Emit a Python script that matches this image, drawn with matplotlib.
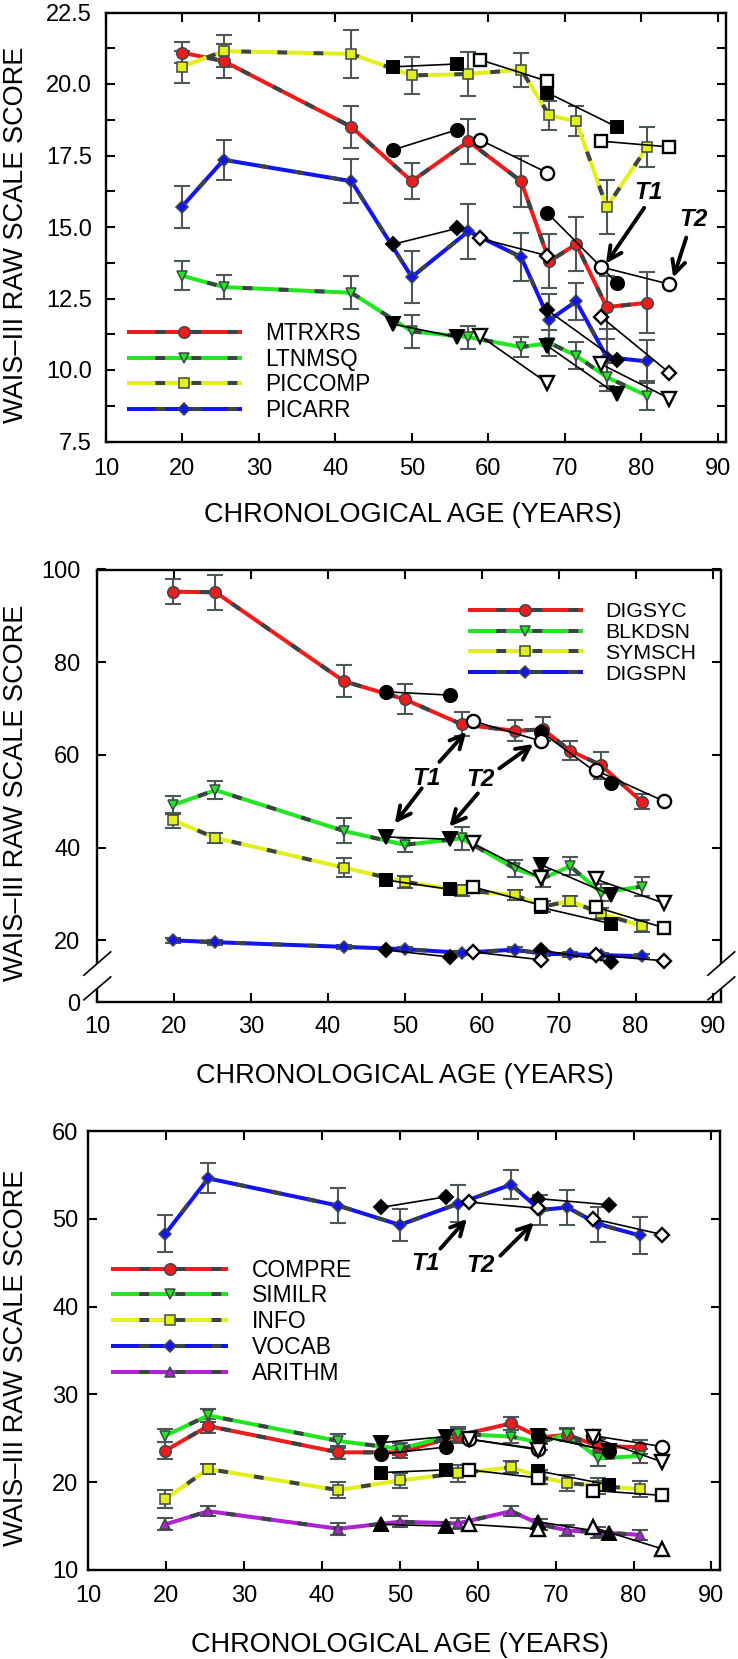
import matplotlib
matplotlib.use('Agg')
import matplotlib.pyplot as plt
from matplotlib.lines import Line2D
from matplotlib.ticker import FormatStrFormatter, MultipleLocator

plt.rcParams['font.family'] = ['Liberation Sans', 'DejaVu Sans']
plt.rcParams['lines.scale_dashes'] = False

# ---------------- data ----------------
cross_age = [19.9, 25.4, 42.1, 50.0, 57.4, 64.3, 68.0, 71.5, 75.5, 80.8]
t1_age = [47.6, 55.9, 67.7, 76.8]     # filled markers (time 1)
t2_age = [58.9, 67.7, 74.8, 83.7]     # open markers (time 2)

# Panel 1
MTRXRS_mean = [21.1, 20.8, 18.5, 16.6, 18.0, 16.6, 13.8, 14.4, 12.2, 12.35]
MTRXRS_se = [0.38, 0.6, 0.74, 0.63, 0.79, 0.9, 0.95, 0.95, 1.1, 1.07]
MTRXRS_t1 = [17.7, 18.4, 15.5, 13.05]
MTRXRS_t2 = [18.05, 16.9, 13.6, 13.0]

LTNMSQ_mean = [13.3, 12.9, 12.7, 11.35, 11.15, 10.8, 10.95, 10.5, 9.75, 9.1]
LTNMSQ_se = [0.52, 0.43, 0.57, 0.57, 0.4, 0.34, 0.45, 0.47, 0.5, 0.5]
LTNMSQ_t1 = [11.6, 11.15, 10.85, 9.15]
LTNMSQ_t2 = [11.2, 9.55, 10.2, 9.0]

PICCOMP_mean = [20.6, 21.15, 21.05, 20.3, 20.35, 20.5, 18.9, 18.7, 15.7, 17.8]
PICCOMP_se = [0.56, 0.55, 0.83, 0.64, 0.76, 0.59, 0.52, 0.52, 0.96, 0.7]
PICCOMP_t1 = [20.6, 20.7, 19.7, 18.5]
PICCOMP_t2 = [20.85, 20.1, 18.0, 17.8]

PICARR_mean = [15.7, 17.35, 16.6, 13.25, 14.85, 13.95, 11.75, 12.4, 10.45, 10.3]
PICARR_se = [0.72, 0.69, 0.77, 0.9, 0.96, 0.83, 0.9, 0.64, 1.0, 0.76]
PICARR_t1 = [14.4, 14.95, 12.1, 10.35]
PICARR_t2 = [14.6, 14.0, 11.85, 9.9]

# Panel 2
DIGSYC_mean = [95.2, 95.1, 75.9, 72.0, 66.6, 65.2, 65.5, 60.9, 57.8, 49.9]
DIGSYC_se = [2.7, 3.8, 3.4, 3.2, 2.6, 2.3, 2.6, 2.0, 2.9, 1.6]
DIGSYC_t1 = [73.6, 72.9, 65.0, 53.9]
DIGSYC_t2 = [67.3, 63.0, 56.7, 50.0]

BLKDSN_mean = [49.2, 52.4, 43.6, 40.6, 42.0, 35.5, 33.4, 36.0, 30.3, 31.6]
BLKDSN_se = [2.0, 2.0, 2.7, 1.5, 2.5, 1.8, 1.8, 2.0, 1.8, 2.0]
BLKDSN_t1 = [42.3, 41.8, 36.3, 29.8]
BLKDSN_t2 = [40.9, 33.4, 33.2, 28.0]

SYMSCH_mean = [45.9, 42.1, 35.7, 32.6, 30.8, 29.8, 27.3, 28.5, 25.8, 23.1]
SYMSCH_se = [1.6, 1.0, 2.1, 1.3, 1.2, 1.0, 1.2, 1.0, 1.2, 1.2]
SYMSCH_t1 = [33.0, 31.0, 27.1, 23.6]
SYMSCH_t2 = [31.5, 27.6, 27.2, 22.7]

DIGSPN_mean = [20.0, 19.6, 18.6, 18.1, 17.3, 18.0, 17.1, 17.0, 16.8, 16.6]
DIGSPN_se = [0.5, 0.5, 0.5, 0.5, 0.5, 0.5, 0.5, 0.5, 0.5, 0.5]
DIGSPN_t1 = [17.9, 16.4, 17.9, 15.4]
DIGSPN_t2 = [17.5, 15.8, 16.8, 15.6]

# Panel 3
COMPRE_mean = [23.6, 26.4, 23.4, 23.4, 25.3, 26.7, 25.1, 25.4, 24.1, 24.0]
COMPRE_se = [0.95, 0.8, 0.75, 0.7, 0.8, 0.75, 0.8, 0.7, 0.8, 0.8]
COMPRE_t1 = [23.2, 24.0, 25.3, 23.6]
COMPRE_t2 = [24.9, 23.8, 25.3, 24.05]

SIMILR_mean = [25.3, 27.6, 24.7, 23.8, 25.5, 25.2, 24.5, 25.5, 22.7, 23.0]
SIMILR_se = [0.75, 0.7, 0.8, 0.7, 0.8, 0.7, 0.8, 0.7, 0.9, 0.8]
SIMILR_t1 = [24.5, 25.2, 25.3, 23.6]
SIMILR_t2 = [24.9, 23.7, 25.1, 22.3]

INFO_mean = [18.1, 21.5, 19.1, 20.2, 21.0, 21.7, 20.6, 19.9, 19.6, 19.2]
INFO_se = [1.0, 0.6, 0.95, 0.9, 1.0, 0.7, 0.8, 0.9, 0.9, 0.9]
INFO_t1 = [21.1, 21.4, 21.3, 19.7]
INFO_t2 = [21.4, 20.5, 19.05, 18.5]

VOCAB_mean = [48.3, 54.6, 51.5, 49.3, 51.7, 53.9, 51.0, 51.3, 49.4, 48.1]
VOCAB_se = [2.1, 1.7, 2.0, 1.85, 2.1, 1.7, 1.7, 2.0, 2.0, 2.1]
VOCAB_t1 = [51.3, 52.5, 52.3, 51.6]
VOCAB_t2 = [51.9, 51.2, 50.0, 48.2]

ARITHM_mean = [15.2, 16.7, 14.7, 15.5, 15.3, 16.7, 15.2, 14.5, 14.3, 14.0]
ARITHM_se = [0.7, 0.6, 0.7, 0.6, 0.6, 0.6, 0.6, 0.6, 0.6, 0.6]
ARITHM_t1 = [15.2, 15.0, 15.5, 14.2]
ARITHM_t2 = [15.2, 14.7, 14.85, 12.4]

# ---------------- style ----------------
RED = '#ee1c1c'
GREEN = '#22e622'
YELLOW = '#e3ef1a'
BLUE = '#1414f0'
PURPLE = '#b022d6'
GRAY = '#3a4444'
ERR = '#4c5858'
EDGE = '#3c4848'
LW = 2.9
DASH_ON, DASH_OFF = 7, 19
DASH = (DASH_ON, (DASH_ON, DASH_OFF))

MARK = {'o': 8.3, 'v': 7.3, 's': 6.8, 'D': 6.0, '^': 7.3}
LMARK = {'o': 9.5, 'v': 9.5, 's': 9.0, 'D': 7.6, '^': 9.5}

W, H = 738, 1659
fig = plt.figure(figsize=(W / 100, H / 100), dpi=100)


def make_axes(l, t, r, b):
    return fig.add_axes([l / W, 1 - b / H, (r - l) / W, (b - t) / H])


def draw_cross(ax, mean, se, color, marker):
    ax.errorbar(cross_age, mean, yerr=se, fmt='none', ecolor=ERR,
                elinewidth=1.5, capsize=6, capthick=1.5, zorder=2)
    ax.plot(cross_age, mean, color=color, lw=LW, zorder=3)
    ax.plot(cross_age, mean, color=GRAY, lw=LW, ls=DASH, zorder=3.1)
    ax.plot(cross_age, mean, ls='none', marker=marker, ms=MARK[marker],
            mfc=color, mec=EDGE, mew=1.1, zorder=4)


def draw_long(ax, t1, t2, marker):
    for i, j in [(0, 1), (2, 3)]:
        ax.plot([t1_age[i], t1_age[j]], [t1[i], t1[j]], color='k', lw=1.2, zorder=5)
        ax.plot([t2_age[i], t2_age[j]], [t2[i], t2[j]], color='k', lw=1.2, zorder=5)
    ax.plot(t1_age, t1, ls='none', marker=marker, ms=LMARK[marker],
            mfc='k', mec='k', mew=1.4, zorder=6)
    ax.plot(t2_age, t2, ls='none', marker=marker, ms=LMARK[marker],
            mfc='white', mec='k', mew=1.7, zorder=6)


def legend_handle(color, marker):
    a = Line2D([], [], color=color, lw=LW)
    b = Line2D([], [], color=GRAY, lw=LW, ls=DASH)
    c = Line2D([], [], ls='none', marker=marker, ms=MARK[marker], mfc=color,
               mec=EDGE, mew=1.1)
    return (a, b, c)


def style_axes(ax, ypad, xpad):
    ax.set_xlim(10, 91.1)
    ax.xaxis.set_major_locator(MultipleLocator(10))
    ax.tick_params(which='both', direction='in', length=6.5, width=1.5,
                   top=True, right=True, labelsize=17)
    ax.tick_params(axis='y', pad=ypad)
    ax.tick_params(axis='x', pad=xpad)
    for s in ax.spines.values():
        s.set_linewidth(1.7)


def arrow(ax, tail, head):
    ax.annotate('', xy=head, xytext=tail,
                arrowprops=dict(arrowstyle='->', lw=2.8, color='k',
                                mutation_scale=24, shrinkA=0, shrinkB=0),
                zorder=8)


def tlabel(ax, pos, s):
    ax.text(pos[0], pos[1], s, fontsize=17.5, fontweight='bold', style='italic',
            ha='center', va='center', zorder=8)


YLABEL = 'WAIS\u2013III RAW SCALE SCORE'
XLABEL = 'CHRONOLOGICAL AGE (YEARS)'

# ---------------- panel 1 ----------------
ax1 = make_axes(106, 12.5, 726, 441.5)
series1 = [('MTRXRS', MTRXRS_mean, MTRXRS_se, MTRXRS_t1, MTRXRS_t2, RED, 'o'),
           ('LTNMSQ', LTNMSQ_mean, LTNMSQ_se, LTNMSQ_t1, LTNMSQ_t2, GREEN, 'v'),
           ('PICCOMP', PICCOMP_mean, PICCOMP_se, PICCOMP_t1, PICCOMP_t2, YELLOW, 's'),
           ('PICARR', PICARR_mean, PICARR_se, PICARR_t1, PICARR_t2, BLUE, 'D')]
for name, m, se, t1, t2, c, mk in series1:
    draw_cross(ax1, m, se, c, mk)
for name, m, se, t1, t2, c, mk in series1:
    draw_long(ax1, t1, t2, mk)
style_axes(ax1, 10, 12)
ax1.set_ylim(7.5, 22.5)
ax1.yaxis.set_major_locator(MultipleLocator(2.5))
ax1.yaxis.set_minor_locator(MultipleLocator(1.25))
ax1.yaxis.set_major_formatter(FormatStrFormatter('%.1f'))
ax1.xaxis.set_minor_locator(plt.NullLocator())
ax1.legend([legend_handle(c, mk) for _, _, _, _, _, c, mk in series1],
           [s[0] for s in series1], loc='center left',
           bbox_to_anchor=(0.037, 0.162), frameon=False, fontsize=16.3,
           handlelength=4.9, handletextpad=1.1, labelspacing=0.12,
           borderpad=0, borderaxespad=0, numpoints=1)
arrow(ax1, (80.4, 15.67), (75.4, 13.72))
tlabel(ax1, (80.9, 16.2), 'T1')
arrow(ax1, (85.9, 14.63), (84.2, 13.23))
tlabel(ax1, (86.8, 15.25), 'T2')

# ---------------- panel 2 ----------------
ax2 = make_axes(97, 569.5, 721, 1002)
series2 = [('DIGSYC', DIGSYC_mean, DIGSYC_se, DIGSYC_t1, DIGSYC_t2, RED, 'o'),
           ('BLKDSN', BLKDSN_mean, BLKDSN_se, BLKDSN_t1, BLKDSN_t2, GREEN, 'v'),
           ('SYMSCH', SYMSCH_mean, SYMSCH_se, SYMSCH_t1, SYMSCH_t2, YELLOW, 's'),
           ('DIGSPN', DIGSPN_mean, DIGSPN_se, DIGSPN_t1, DIGSPN_t2, BLUE, 'D')]
for name, m, se, t1, t2, c, mk in series2:
    draw_cross(ax2, m, se, c, mk)
for name, m, se, t1, t2, c, mk in series2:
    draw_long(ax2, t1, t2, mk)
style_axes(ax2, 12, 10)
ybot = 6.7   # axis is broken below 20; bottom of axis represents 0
ax2.set_ylim(ybot, 100)
ax2.set_yticks([ybot, 20, 40, 60, 80, 100])
ax2.set_yticklabels(['0', '20', '40', '60', '80', '100'])
ax2.spines['left'].set_visible(False)
ax2.spines['right'].set_visible(False)
for x in (0, 1):
    ax2.plot([x, x], [0.089, 1], transform=ax2.transAxes, color='k', lw=1.7,
             clip_on=False, zorder=7, solid_capstyle='butt')
    ax2.plot([x, x], [0, 0.032], transform=ax2.transAxes, color='k', lw=1.7,
             clip_on=False, zorder=7, solid_capstyle='butt')
    ax2.plot([x - 0.021, x + 0.022], [0.062, 0.116], transform=ax2.transAxes,
             color='k', lw=1.2, clip_on=False, zorder=7)
    ax2.plot([x - 0.021, x + 0.022], [0.005, 0.058], transform=ax2.transAxes,
             color='k', lw=1.2, clip_on=False, zorder=7)
ax2.legend([legend_handle(c, mk) for _, _, _, _, _, c, mk in series2],
           [s[0] for s in series2], loc='center left',
           bbox_to_anchor=(0.598, 0.830), frameon=False, fontsize=15.3,
           handlelength=5.2, handletextpad=1.15, labelspacing=0.08,
           borderpad=0, borderaxespad=0, numpoints=1)
arrow(ax2, (54.5, 58.5), (58.0, 65.0))
arrow(ax2, (52.2, 52.8), (48.7, 45.2))
tlabel(ax2, (52.8, 55.0), 'T1')
arrow(ax2, (62.3, 57.1), (66.7, 62.35))
arrow(ax2, (59.5, 51.7), (55.8, 44.5))
tlabel(ax2, (59.8, 54.6), 'T2')

# ---------------- panel 3 ----------------
ax3 = make_axes(88.3, 1131, 720, 1570)
series3 = [('COMPRE', COMPRE_mean, COMPRE_se, COMPRE_t1, COMPRE_t2, RED, 'o'),
           ('SIMILR', SIMILR_mean, SIMILR_se, SIMILR_t1, SIMILR_t2, GREEN, 'v'),
           ('INFO', INFO_mean, INFO_se, INFO_t1, INFO_t2, YELLOW, 's'),
           ('VOCAB', VOCAB_mean, VOCAB_se, VOCAB_t1, VOCAB_t2, BLUE, 'D'),
           ('ARITHM', ARITHM_mean, ARITHM_se, ARITHM_t1, ARITHM_t2, PURPLE, '^')]
for name, m, se, t1, t2, c, mk in series3:
    draw_cross(ax3, m, se, c, mk)
for name, m, se, t1, t2, c, mk in series3:
    draw_long(ax3, t1, t2, mk)
style_axes(ax3, 7, 11)
ax3.set_ylim(10, 60)
ax3.yaxis.set_major_locator(MultipleLocator(10))
ax3.legend([legend_handle(c, mk) for _, _, _, _, _, c, mk in series3],
           [s[0] for s in series3], loc='center left',
           bbox_to_anchor=(0.039, 0.566), frameon=False, fontsize=16.5,
           handlelength=4.95, handletextpad=1.1, labelspacing=0.12,
           borderpad=0, borderaxespad=0, numpoints=1)
arrow(ax3, (55.2, 46.6), (58.6, 50.0))
tlabel(ax3, (53.3, 44.9), 'T1')
arrow(ax3, (62.9, 45.8), (67.2, 49.6))
tlabel(ax3, (60.4, 44.7), 'T2')

# ---------------- axis titles ----------------
for yc in (235, 793, 1358):
    fig.text(16 / W, 1 - yc / H, YLABEL, rotation=90, ha='center', va='center',
             fontsize=19.5)
for xc, yb in ((412.5, 521.7), (405, 1083), (400, 1651.7)):
    fig.text(xc / W, 1 - yb / H, XLABEL, ha='center', va='baseline', fontsize=19.5)

fig.savefig('out.png', dpi=100)
